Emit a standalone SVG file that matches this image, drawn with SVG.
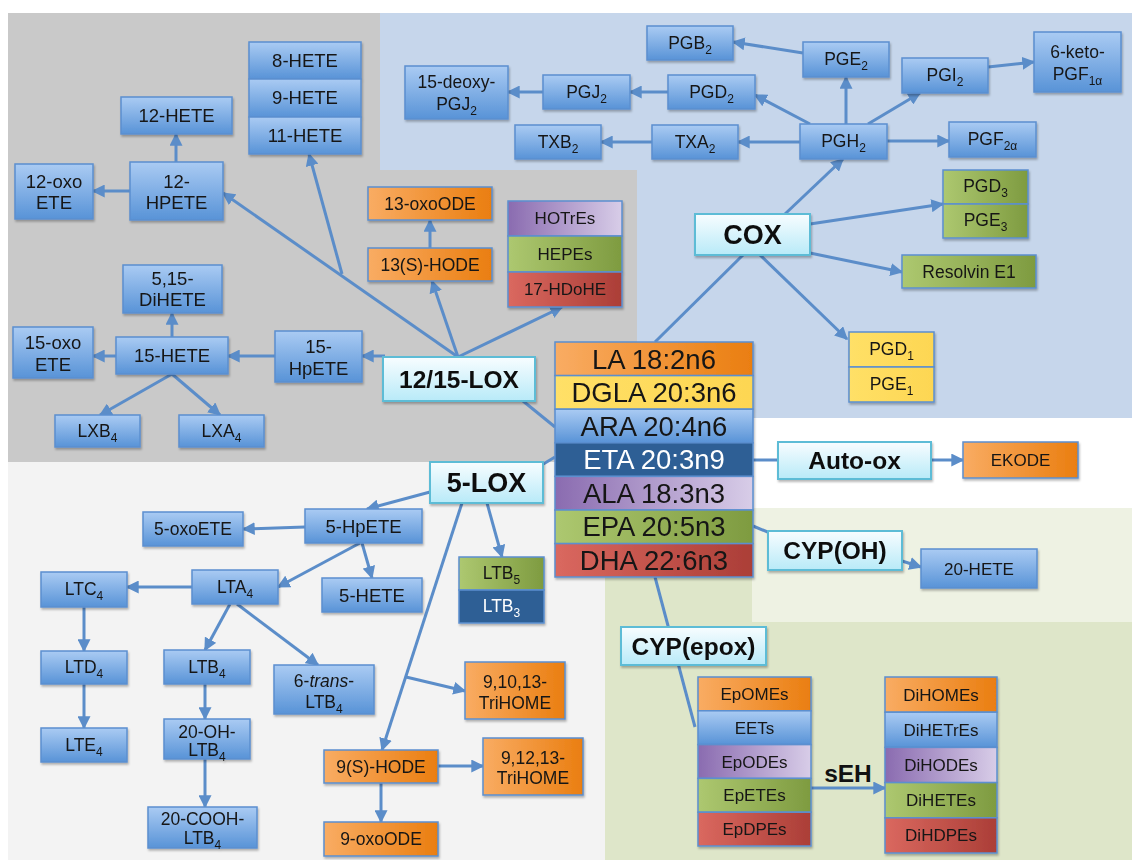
<svg xmlns="http://www.w3.org/2000/svg" width="1132" height="860" viewBox="0 0 1132 860">
<defs>
<linearGradient id="gB" x1="0" y1="0" x2="0" y2="1"><stop offset="0" stop-color="#aacbf3"/><stop offset="1" stop-color="#5893d7"/></linearGradient>
<linearGradient id="gC" x1="0" y1="0" x2="0" y2="1"><stop offset="0" stop-color="#f8fdff"/><stop offset="1" stop-color="#b8eaf8"/></linearGradient>
<linearGradient id="gO" x1="0" y1="0" x2="1" y2="0"><stop offset="0" stop-color="#f9ac63"/><stop offset="1" stop-color="#ea7e10"/></linearGradient>
<linearGradient id="gG" x1="0" y1="0" x2="1" y2="0"><stop offset="0" stop-color="#adc870"/><stop offset="1" stop-color="#7e9b40"/></linearGradient>
<linearGradient id="gP" x1="0" y1="0" x2="1" y2="0"><stop offset="0" stop-color="#8a6bb0"/><stop offset="1" stop-color="#d8cde8"/></linearGradient>
<linearGradient id="gR" x1="0" y1="0" x2="1" y2="0"><stop offset="0" stop-color="#da685f"/><stop offset="1" stop-color="#ab3e37"/></linearGradient>
<linearGradient id="gY" x1="0" y1="0" x2="1" y2="0"><stop offset="0" stop-color="#ffe067"/><stop offset="1" stop-color="#fdd652"/></linearGradient>
<filter id="sh" x="-10%" y="-10%" width="130%" height="140%"><feDropShadow dx="1" dy="2" stdDeviation="1.2" flood-color="#000" flood-opacity="0.28"/></filter>
<marker id="ah" viewBox="0 0 10 10" refX="9" refY="5" markerWidth="13" markerHeight="13" markerUnits="userSpaceOnUse" orient="auto"><path d="M0,0 L10,5 L0,10 z" fill="#5b8dc9"/></marker>
<style>
.c line{stroke:#5b8dc9;stroke-width:3;fill:none}
.c .a{marker-end:url(#ah)}
.n rect{stroke:#5b8fcf;stroke-width:1.5}
.bg{stroke:none}
.b{fill:url(#gB)}
.o{fill:url(#gO)}
.g{fill:url(#gG)}
.p{fill:url(#gP)}
.r{fill:url(#gR)}
.y{fill:url(#gY)}
.d{fill:#2e5f95}
.n rect.e{fill:url(#gC);stroke:#5dbcd6;stroke-width:2}
text{font-family:"Liberation Sans",Arial,sans-serif;font-size:17.5px;fill:#161616;text-anchor:middle}
.s{font-size:12px}
.k{font-weight:bold;font-size:24.5px;fill:#111}
.m{font-size:27.5px}
.w{fill:#fff}
.f{font-size:17px}
.h{font-size:18.5px}
g.n{filter:url(#sh)}
</style>
</defs>
<g id="background">
<rect class="bg" x="0" y="0" width="1132" height="860" fill="#ffffff"/>
<polygon class="bg" points="8,13 380,13 380,170 637,170 637,462 8,462" fill="#c9c9c9"/>
<polygon class="bg" points="380,13 1132,13 1132,418 637,418 637,170 380,170" fill="#c6d6eb"/>
<rect class="bg" x="8" y="462" width="597" height="398" fill="#f3f3f3"/>
<rect class="bg" x="605" y="508" width="527" height="352" fill="#dee6c9"/>
<rect class="bg" x="752" y="508" width="380" height="114" fill="#eef2e3"/>
</g>
<g id="connectors" class="c">
<line x1="655" y1="342" x2="743" y2="255"/>
<line class="a" x1="785" y1="214" x2="843" y2="159"/>
<line class="a" x1="810" y1="224" x2="943" y2="204"/>
<line class="a" x1="810" y1="253" x2="902" y2="272"/>
<line class="a" x1="760" y1="255" x2="847" y2="339"/>
<line class="a" x1="846" y1="124" x2="846" y2="77"/>
<line class="a" x1="868" y1="124" x2="920" y2="93"/>
<line class="a" x1="887" y1="141" x2="949" y2="141"/>
<line class="a" x1="800" y1="142" x2="738" y2="142"/>
<line class="a" x1="810" y1="124" x2="755" y2="95"/>
<line class="a" x1="803" y1="53" x2="733" y2="42"/>
<line class="a" x1="668" y1="92" x2="630" y2="92"/>
<line class="a" x1="543" y1="92" x2="508" y2="92"/>
<line class="a" x1="652" y1="142" x2="601" y2="142"/>
<line class="a" x1="988" y1="67" x2="1034" y2="62"/>
<line x1="523" y1="401" x2="555" y2="427"/>
<line class="a" x1="458" y1="357" x2="223" y2="193"/>
<line class="a" x1="342" y1="274" x2="309" y2="154"/>
<line class="a" x1="458" y1="357" x2="432" y2="281"/>
<line class="a" x1="458" y1="357" x2="562" y2="307"/>
<line class="a" x1="385" y1="356" x2="362" y2="356"/>
<line class="a" x1="430" y1="248" x2="430" y2="220"/>
<line class="a" x1="176" y1="162" x2="176" y2="134"/>
<line class="a" x1="130" y1="191" x2="93" y2="191"/>
<line class="a" x1="275" y1="356" x2="228" y2="356"/>
<line class="a" x1="172" y1="337" x2="172" y2="313"/>
<line class="a" x1="116" y1="356" x2="93" y2="356"/>
<line class="a" x1="172" y1="374" x2="100" y2="415"/>
<line class="a" x1="172" y1="374" x2="220" y2="415"/>
<line x1="540" y1="466" x2="555" y2="457"/>
<line class="a" x1="430" y1="492" x2="367" y2="509"/>
<line class="a" x1="487" y1="503" x2="502" y2="557"/>
<line class="a" x1="462" y1="503" x2="382" y2="750"/>
<line class="a" x1="406" y1="677" x2="465" y2="691"/>
<line class="a" x1="438" y1="766" x2="483" y2="766"/>
<line class="a" x1="381" y1="783" x2="381" y2="822"/>
<line class="a" x1="305" y1="527" x2="243" y2="529"/>
<line class="a" x1="362" y1="543" x2="372" y2="578"/>
<line class="a" x1="360" y1="543" x2="278" y2="587"/>
<line class="a" x1="192" y1="587" x2="127" y2="587"/>
<line class="a" x1="230" y1="604" x2="205" y2="650"/>
<line class="a" x1="237" y1="604" x2="318" y2="665"/>
<line class="a" x1="84" y1="607" x2="84" y2="651"/>
<line class="a" x1="84" y1="684" x2="84" y2="728"/>
<line class="a" x1="205" y1="684" x2="205" y2="719"/>
<line class="a" x1="205" y1="759" x2="205" y2="807"/>
<line x1="753" y1="460" x2="778" y2="460"/>
<line class="a" x1="931" y1="460" x2="963" y2="460"/>
<line x1="753" y1="526" x2="770" y2="533"/>
<line class="a" x1="902" y1="561" x2="921" y2="567"/>
<line x1="655" y1="577" x2="695" y2="727"/>
<line class="a" x1="811" y1="788" x2="885" y2="788"/>
</g>
<g id="hete-8-9-11" class="n"><rect class="b" x="249" y="42" width="112" height="37"/><rect class="b" x="249" y="79" width="112" height="38"/><rect class="b" x="249" y="117" width="112" height="37"/><text class="h" x="305" y="67">8-HETE</text><text class="h" x="305" y="104">9-HETE</text><text class="h" x="305" y="142">11-HETE</text></g>
<g id="hete-12" class="n"><rect class="b" x="121" y="97" width="111" height="37"/><text class="h" x="176.5" y="122">12-HETE</text></g>
<g id="hpete-12" class="n"><rect class="b" x="130" y="162" width="93" height="58"/><text class="h" x="176.5" y="188">12-</text><text class="h" x="176.5" y="209">HPETE</text></g>
<g id="oxoete-12" class="n"><rect class="b" x="15" y="164" width="78" height="55"/><text class="h" x="54" y="188">12-oxo</text><text class="h" x="54" y="209">ETE</text></g>
<g id="deoxy-pgj2" class="n"><rect class="b" x="405" y="66" width="103" height="53"/><text x="456.5" y="88">15-deoxy-</text><text x="456.5" y="110">PGJ<tspan class="s" dy="5">2</tspan></text></g>
<g id="pgj2" class="n"><rect class="b" x="543" y="75" width="87" height="34"/><text x="586.5" y="98">PGJ<tspan class="s" dy="5">2</tspan></text></g>
<g id="pgd2" class="n"><rect class="b" x="668" y="75" width="87" height="34"/><text x="711.5" y="98">PGD<tspan class="s" dy="5">2</tspan></text></g>
<g id="pgb2" class="n"><rect class="b" x="647" y="26" width="86" height="34"/><text x="690" y="49">PGB<tspan class="s" dy="5">2</tspan></text></g>
<g id="txb2" class="n"><rect class="b" x="515" y="125" width="86" height="34"/><text x="558" y="148">TXB<tspan class="s" dy="5">2</tspan></text></g>
<g id="txa2" class="n"><rect class="b" x="652" y="125" width="86" height="34"/><text x="695" y="148">TXA<tspan class="s" dy="5">2</tspan></text></g>
<g id="pge2" class="n"><rect class="b" x="803" y="42" width="86" height="35"/><text x="846" y="65">PGE<tspan class="s" dy="5">2</tspan></text></g>
<g id="pgi2" class="n"><rect class="b" x="902" y="58" width="86" height="35"/><text x="945" y="81">PGI<tspan class="s" dy="5">2</tspan></text></g>
<g id="keto-pgf1a" class="n"><rect class="b" x="1034" y="32" width="87" height="60"/><text x="1077.5" y="58">6-keto-</text><text x="1077.5" y="80">PGF<tspan class="s" dy="5">1α</tspan></text></g>
<g id="pgh2" class="n"><rect class="b" x="800" y="124" width="87" height="35"/><text x="843.5" y="147">PGH<tspan class="s" dy="5">2</tspan></text></g>
<g id="pgf2a" class="n"><rect class="b" x="949" y="122" width="87" height="35"/><text x="992.5" y="145">PGF<tspan class="s" dy="5">2α</tspan></text></g>
<g id="pgd3-pge3" class="n"><rect class="g" x="943" y="170" width="85" height="34"/><rect class="g" x="943" y="204" width="85" height="34"/><text x="985.5" y="192">PGD<tspan class="s" dy="5">3</tspan></text><text x="985.5" y="226">PGE<tspan class="s" dy="5">3</tspan></text></g>
<g id="resolvin-e1" class="n"><rect class="g" x="902" y="255" width="134" height="33"/><text x="969" y="278">Resolvin E1</text></g>
<g id="pgd1-pge1" class="n"><rect class="y" x="849" y="332" width="85" height="35"/><rect class="y" x="849" y="367" width="85" height="35"/><text x="891.5" y="355">PGD<tspan class="s" dy="5">1</tspan></text><text x="891.5" y="390">PGE<tspan class="s" dy="5">1</tspan></text></g>
<g id="oxoode-13" class="n"><rect class="o" x="368" y="187" width="124" height="33"/><text x="430" y="210">13-oxoODE</text></g>
<g id="hode-13s" class="n"><rect class="o" x="368" y="248" width="124" height="33"/><text x="430" y="271">13(S)-HODE</text></g>
<g id="hotres-hepes-hdohe" class="n"><rect class="p" x="508" y="201" width="114" height="35"/><rect class="g" x="508" y="236" width="114" height="36"/><rect class="r" x="508" y="272" width="114" height="35"/><text class="f" x="565" y="224">HOTrEs</text><text class="f" x="565" y="260">HEPEs</text><text class="f" x="565" y="295">17-HDoHE</text></g>
<g id="dihete-515" class="n"><rect class="b" x="123" y="265" width="99" height="48"/><text class="h" x="172.5" y="285">5,15-</text><text class="h" x="172.5" y="306">DiHETE</text></g>
<g id="oxoete-15" class="n"><rect class="b" x="13" y="327" width="80" height="51"/><text class="h" x="53" y="349">15-oxo</text><text class="h" x="53" y="371">ETE</text></g>
<g id="hete-15" class="n"><rect class="b" x="116" y="337" width="112" height="37"/><text class="h" x="172" y="362">15-HETE</text></g>
<g id="hpete-15" class="n"><rect class="b" x="275" y="331" width="87" height="51"/><text class="h" x="318.5" y="353">15-</text><text class="h" x="318.5" y="375">HpETE</text></g>
<g id="lxb4" class="n"><rect class="b" x="55" y="415" width="85" height="32"/><text x="97.5" y="437">LXB<tspan class="s" dy="5">4</tspan></text></g>
<g id="lxa4" class="n"><rect class="b" x="179" y="415" width="85" height="32"/><text x="221.5" y="437">LXA<tspan class="s" dy="5">4</tspan></text></g>
<g id="oxoete-5" class="n"><rect class="b" x="143" y="512" width="100" height="34"/><text x="193" y="535">5-oxoETE</text></g>
<g id="hpete-5" class="n"><rect class="b" x="305" y="509" width="117" height="34"/><text class="h" x="363.5" y="532.5">5-HpETE</text></g>
<g id="ltc4" class="n"><rect class="b" x="41" y="572" width="86" height="35"/><text x="84" y="595">LTC<tspan class="s" dy="5">4</tspan></text></g>
<g id="lta4" class="n"><rect class="b" x="192" y="570" width="86" height="34"/><text x="235" y="593">LTA<tspan class="s" dy="5">4</tspan></text></g>
<g id="hete-5" class="n"><rect class="b" x="322" y="578" width="100" height="34"/><text class="h" x="372" y="601.5">5-HETE</text></g>
<g id="ltd4" class="n"><rect class="b" x="41" y="651" width="86" height="33"/><text x="84" y="673">LTD<tspan class="s" dy="5">4</tspan></text></g>
<g id="ltb4" class="n"><rect class="b" x="164" y="650" width="86" height="34"/><text x="207" y="673">LTB<tspan class="s" dy="5">4</tspan></text></g>
<g id="trans-ltb4" class="n"><rect class="b" x="274" y="665" width="100" height="49"/><text x="324" y="687">6-<tspan font-style="italic">trans</tspan>-</text><text x="324" y="708">LTB<tspan class="s" dy="5">4</tspan></text></g>
<g id="lte4" class="n"><rect class="b" x="41" y="728" width="86" height="34"/><text x="84" y="751">LTE<tspan class="s" dy="5">4</tspan></text></g>
<g id="oh-ltb4" class="n"><rect class="b" x="164" y="719" width="86" height="40"/><text x="207" y="738">20-OH-</text><text x="207" y="756">LTB<tspan class="s" dy="5">4</tspan></text></g>
<g id="cooh-ltb4" class="n"><rect class="b" x="148" y="807" width="109" height="41"/><text x="202.5" y="825">20-COOH-</text><text x="202.5" y="844">LTB<tspan class="s" dy="5">4</tspan></text></g>
<g id="ltb5-ltb3" class="n"><rect class="g" x="459" y="557" width="85" height="33"/><rect class="d" x="459" y="590" width="85" height="33"/><text x="501.5" y="579">LTB<tspan class="s" dy="5">5</tspan></text><text class="w" x="501.5" y="612">LTB<tspan class="s w" dy="5">3</tspan></text></g>
<g id="trihome-91013" class="n"><rect class="o" x="465" y="662" width="100" height="57"/><text x="515" y="688">9,10,13-</text><text x="515" y="709">TriHOME</text></g>
<g id="hode-9s" class="n"><rect class="o" x="324" y="750" width="114" height="33"/><text x="381" y="773">9(S)-HODE</text></g>
<g id="trihome-91213" class="n"><rect class="o" x="483" y="738" width="100" height="57"/><text x="533" y="764">9,12,13-</text><text x="533" y="784">TriHOME</text></g>
<g id="oxoode-9" class="n"><rect class="o" x="324" y="822" width="114" height="34"/><text x="381" y="845">9-oxoODE</text></g>
<g id="ekode" class="n"><rect class="o" x="963" y="442" width="115" height="36"/><text class="f" x="1020.5" y="466">EKODE</text></g>
<g id="hete-20" class="n"><rect class="b" x="921" y="549" width="116" height="39"/><text class="f" x="979" y="574.5">20-HETE</text></g>
<g id="fatty-acids" class="n">
<rect class="o" x="555" y="342" width="198" height="33.6"/>
<rect class="y" x="555" y="375.6" width="198" height="33.6"/>
<rect class="b" x="555" y="409.2" width="198" height="33.6"/>
<rect class="d" x="555" y="442.8" width="198" height="33.6"/>
<rect class="p" x="555" y="476.4" width="198" height="33.6"/>
<rect class="g" x="555" y="510" width="198" height="33.6"/>
<rect class="r" x="555" y="543.6" width="198" height="33.4"/>
<text class="m" x="654" y="368.5">LA 18:2n6</text>
<text class="m" x="654" y="402">DGLA 20:3n6</text>
<text class="m" x="654" y="435.5">ARA 20:4n6</text>
<text class="m w" x="654" y="469">ETA 20:3n9</text>
<text class="m" x="654" y="502.5">ALA 18:3n3</text>
<text class="m" x="654" y="536">EPA 20:5n3</text>
<text class="m" x="654" y="569.5">DHA 22:6n3</text>
</g>
<g id="epoxides" class="n">
<rect class="o" x="698" y="677" width="113" height="33.8"/>
<rect class="b" x="698" y="710.8" width="113" height="33.8"/>
<rect class="p" x="698" y="744.6" width="113" height="33.8"/>
<rect class="g" x="698" y="778.4" width="113" height="33.8"/>
<rect class="r" x="698" y="812.2" width="113" height="33.8"/>
<text class="f" x="754.5" y="700">EpOMEs</text>
<text class="f" x="754.5" y="733.5">EETs</text>
<text class="f" x="754.5" y="767.5">EpODEs</text>
<text class="f" x="754.5" y="801">EpETEs</text>
<text class="f" x="754.5" y="835">EpDPEs</text>
</g>
<g id="diols" class="n">
<rect class="o" x="885" y="677" width="112" height="35.2"/>
<rect class="b" x="885" y="712.2" width="112" height="35.2"/>
<rect class="p" x="885" y="747.4" width="112" height="35.2"/>
<rect class="g" x="885" y="782.6" width="112" height="35.2"/>
<rect class="r" x="885" y="817.8" width="112" height="35.2"/>
<text class="f" x="941" y="700.5">DiHOMEs</text>
<text class="f" x="941" y="735.5">DiHETrEs</text>
<text class="f" x="941" y="771">DiHODEs</text>
<text class="f" x="941" y="806">DiHETEs</text>
<text class="f" x="941" y="841">DiHDPEs</text>
</g>
<g id="cox" class="n"><rect class="e" x="695" y="214" width="115" height="41"/><text class="k" x="752.5" y="244" style="font-size:27px">COX</text></g>
<g id="lox-12-15" class="n"><rect class="e" x="383" y="357" width="152" height="44"/><text class="k" x="459" y="388">12/15-LOX</text></g>
<g id="lox-5" class="n"><rect class="e" x="430" y="462" width="113" height="41"/><text class="k" x="486.5" y="492" style="font-size:27px">5-LOX</text></g>
<g id="auto-ox" class="n"><rect class="e" x="778" y="442" width="153" height="37"/><text class="k" x="854.5" y="469">Auto-ox</text></g>
<g id="cyp-oh" class="n"><rect class="e" x="768" y="531" width="134" height="39"/><text class="k" x="835" y="559">CYP(OH)</text></g>
<g id="cyp-epox" class="n"><rect class="e" x="621" y="627" width="145" height="38"/><text class="k" x="693.5" y="655">CYP(epox)</text></g>
<g id="seh"><text class="k" x="848" y="782">sEH</text></g>
</svg>
